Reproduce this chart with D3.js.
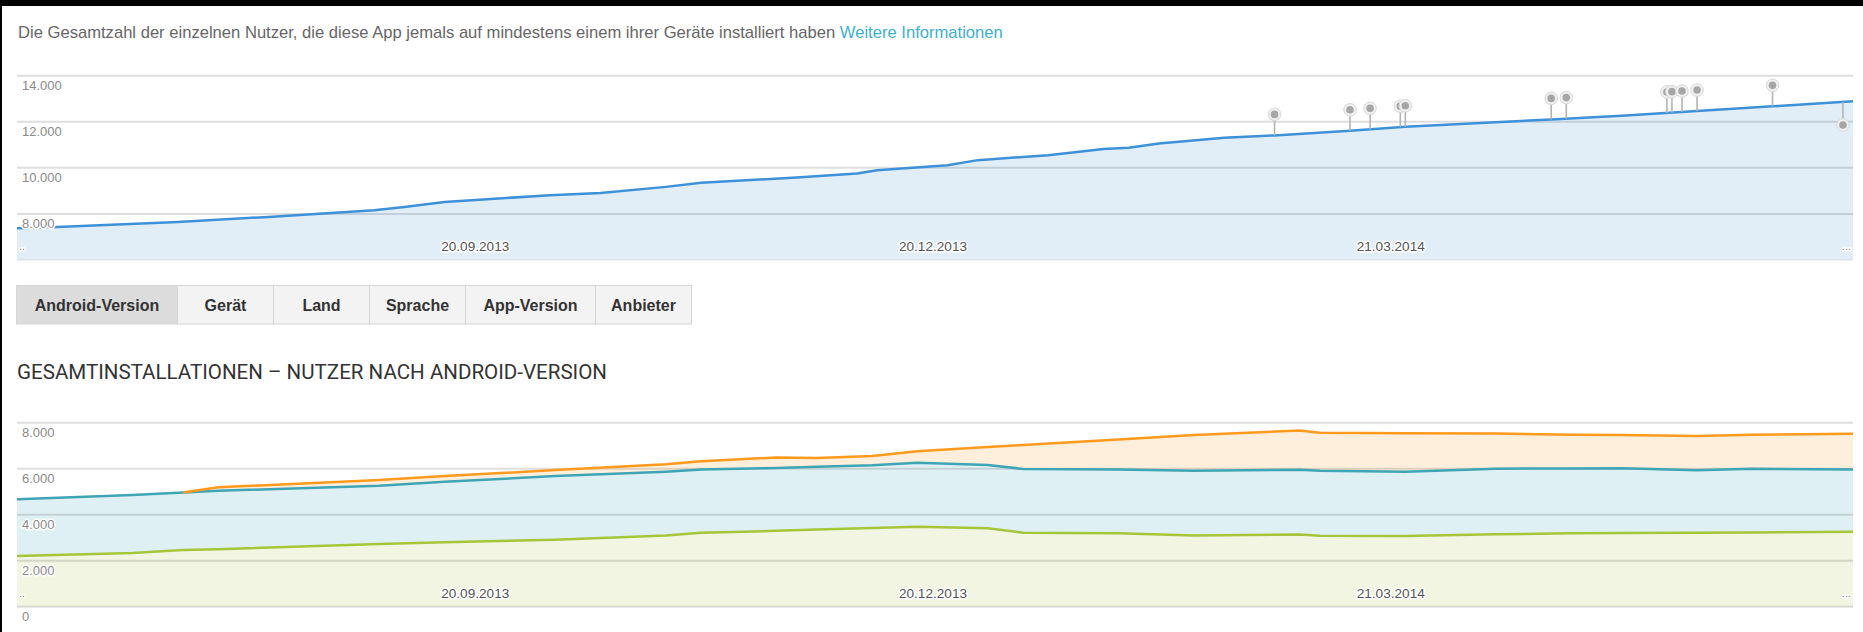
<!DOCTYPE html>
<html>
<head>
<meta charset="utf-8">
<script src="https://cdn.jsdelivr.net/npm/d3@7"></script>
<style>
  body { margin: 0; background: #fff; }
  svg { display: block; font-family: "Liberation Sans", Arial, sans-serif; }
</style>
</head>
<body>
<svg id="page"></svg>
<script>
// total users over time (top chart)
const totalDates = ["2013-06-21","2013-06-29","2013-07-23","2013-08-10","2013-08-31","2013-09-06","2013-09-14",
  "2013-10-05","2013-10-15","2013-10-28","2013-11-04","2013-11-23","2013-12-05","2013-12-09","2013-12-23",
  "2013-12-29","2014-01-12","2014-01-23","2014-01-28","2014-02-03","2014-02-16","2014-02-26","2014-03-13",
  "2014-03-24","2014-04-22","2014-05-06","2014-05-21","2014-06-05","2014-06-21"];
const totalUsers = [7380,7435,7652,7870,8161,8304,8522,8813,8913,9174,9348,9583,9757,9900,10117,
  10335,10552,10813,10870,11061,11304,11409,11609,11783,12104,12261,12465,12670,12887];

// annotation pins on the top chart
const eventDates = ["2014-02-26","2014-03-13","2014-03-17","2014-03-23","2014-03-24","2014-04-22","2014-04-25",
  "2014-05-15","2014-05-16","2014-05-18","2014-05-21","2014-06-05","2014-06-19"];
const eventSide = [1,1,1,1,1,1,1,1,1,1,1,1,-1];

// users by android version (bottom chart, stacked)
const versionDates = ["2013-06-21","2013-07-14","2013-07-24","2013-07-31","2013-09-01","2013-09-14","2013-10-06",
  "2013-10-28","2013-11-04","2013-11-19","2013-11-27","2013-12-08","2013-12-17","2013-12-31","2014-01-07",
  "2014-01-26","2014-02-10","2014-03-03","2014-03-07","2014-03-24","2014-04-11","2014-04-26","2014-05-06",
  "2014-05-21","2014-06-01","2014-06-21"];
const versionLow  = [2200,2330,2460,2500,2730,2800,2910,3100,3210,3300,3360,3420,3480,3410,3220,
  3190,3100,3140,3090,3070,3150,3190,3200,3220,3230,3260];
const versionMid  = [2470,2530,2510,2540,2530,2630,2770,2770,2750,2730,2730,2730,2780,2750,2770,
  2780,2810,2810,2820,2800,2850,2820,2820,2710,2770,2700];
const versionHigh = [null,null,0,150,250,250,260,320,360,460,370,400,500,780,1040,
  1300,1550,1710,1650,1670,1530,1470,1440,1490,1480,1560];

const dateTicks = ["2013-09-20","2013-12-20","2014-03-21"];
const totalTicks = [8000,10000,12000,14000];
const versionTicks = [0,2000,4000,6000,8000];
const tabs = ["Android-Version","Gerät","Land","Sprache","App-Version","Anbieter"];
const tabWidths = [161,96,96,96,130,96];

const W = 1863, H = 632;
const parse = d3.timeParse("%Y-%m-%d");
const de = d3.formatLocale({decimal: ",", thousands: ".", grouping: [3], currency: ["", " €"]});
const fmt = de.format(",");

const svg = d3.select("#page").attr("width", W).attr("height", H);
svg.append("rect").attr("width", W).attr("height", H).attr("fill", "#fff");

// description line
const desc = svg.append("text").attr("x", 18).attr("y", 38).attr("font-size", 16.6).attr("fill", "#666");
desc.append("tspan").text("Die Gesamtzahl der einzelnen Nutzer, die diese App jemals auf mindestens einem ihrer Geräte installiert haben ");
desc.append("tspan").attr("fill", "#3cb0d0").text("Weitere Informationen");

const x = d3.scaleTime()
  .domain([parse("2013-06-21"), parse("2014-06-21")])
  .range([17, 1853]);

function halo(sel) {
  sel.attr("stroke", "#fff").attr("stroke-width", 3).attr("paint-order", "stroke").attr("stroke-linejoin", "round");
}

function grid(g, y, ticks) {
  g.selectAll(".grid")
    .data(ticks)
    .enter()
    .append("line")
    .attr("x1", x.range()[0]).attr("x2", x.range()[1])
    .attr("y1", d => y(d)).attr("y2", d => y(d))
    .attr("stroke", "rgba(0,0,0,0.13)")
    .attr("stroke-width", 2);
}

function labels(g, y, ticks) {
  g.selectAll(".ylab")
    .data(ticks)
    .enter()
    .append("text")
    .attr("x", 22).attr("y", d => y(d) + 14.5)
    .attr("font-size", 13).attr("fill", "#8a8a8a")
    .text(d => fmt(d))
    .call(halo);
}

function dateAxis(g, yPos) {
  const ax = g.append("g")
    .attr("transform", `translate(0,${yPos})`)
    .call(d3.axisBottom(x)
      .tickValues(dateTicks.map(parse))
      .tickSize(0)
      .tickFormat(d3.timeFormat("%d.%m.%Y")));
  ax.select(".domain").remove();
  ax.selectAll("text")
    .attr("font-size", 13.6).attr("fill", "#555").attr("font-family", "Liberation Sans, Arial, sans-serif")
    .attr("dy", 0).attr("y", 0)
    .call(halo);
  g.append("text").attr("x", 19).attr("y", yPos - 1).attr("font-size", 11).attr("fill", "#777").text("..").call(halo);
  g.append("text").attr("x", 1851).attr("y", yPos - 1).attr("font-size", 11).attr("fill", "#777")
    .attr("text-anchor", "end").text("...").call(halo);
}

// ---------- top chart
const yTop = d3.scaleLinear().domain([6000, 14000]).range([260, 75.7]);
const topData = totalDates.map((d, i) => ({date: parse(d), value: totalUsers[i]}));
const gTop = svg.append("g");

gTop.append("path")
  .datum(topData)
  .attr("fill", "#e1eef8")
  .attr("d", d3.area().x(d => x(d.date)).y0(yTop(6000)).y1(d => yTop(d.value)));

grid(gTop, yTop, totalTicks);
gTop.append("line").attr("x1", 17).attr("x2", 1853).attr("y1", yTop(6000)).attr("y2", yTop(6000))
  .attr("stroke", "rgba(0,0,0,0.05)").attr("stroke-width", 2);

gTop.append("path")
  .datum(topData)
  .attr("fill", "none")
  .attr("stroke", "#3d91d9")
  .attr("stroke-width", 2.5)
  .attr("d", d3.line().x(d => x(d.date)).y(d => yTop(d.value)));

labels(gTop, yTop, totalTicks);
dateAxis(gTop, 251);

// pins
const bis = d3.bisector(d => d.date).left;
function valueAt(date) {
  const i = Math.max(1, Math.min(topData.length - 1, bis(topData, date)));
  const a = topData[i - 1], b = topData[i];
  const t = (date - a.date) / (b.date - a.date);
  return a.value + t * (b.value - a.value);
}
const pins = gTop.selectAll(".pin")
  .data(eventDates.map((d, i) => ({date: parse(d), side: eventSide[i]})))
  .enter()
  .append("g")
  .attr("transform", d => `translate(${x(d.date)},${yTop(valueAt(d.date))})`);
pins.append("line")
  .attr("x1", 0).attr("x2", 0).attr("y1", 0).attr("y2", d => -d.side * 16)
  .attr("stroke", "#b4b4b4").attr("stroke-width", 1.6);
pins.append("circle")
  .attr("cy", d => d.side > 0 ? -21 : 23).attr("r", 6.3)
  .attr("fill", "#f0f0f0").attr("stroke", "#d8d8d8").attr("stroke-width", 1);
pins.append("circle")
  .attr("cy", d => d.side > 0 ? -21 : 23).attr("r", 3.8)
  .attr("fill", "#a6a6a6");

// ---------- tabs
const gTabs = svg.append("g");
let tx = 16.5;
tabs.forEach((t, i) => {
  const w = tabWidths[i];
  gTabs.append("rect")
    .attr("x", tx).attr("y", 285.5).attr("width", w).attr("height", 38.5)
    .attr("fill", i === 0 ? "#dcdcdc" : "#f3f3f3")
    .attr("stroke", "#d6d6d6").attr("stroke-width", 1);
  gTabs.append("text")
    .attr("x", tx + w / 2).attr("y", 310.5)
    .attr("text-anchor", "middle")
    .attr("font-size", 16).attr("font-weight", "bold").attr("fill", "#333")
    .text(t);
  tx += w;
});

// ---------- title
svg.append("text")
  .attr("x", 17).attr("y", 379)
  .attr("font-family", "Roboto, sans-serif")
  .attr("font-size", 19.5).attr("fill", "#333")
  .attr("textLength", 590).attr("lengthAdjust", "spacingAndGlyphs")
  .text("GESAMTINSTALLATIONEN – NUTZER NACH ANDROID-VERSION");

// ---------- bottom chart
const yBot = d3.scaleLinear().domain([0, 8000]).range([606.7, 422.7]);
const rows = versionDates.map((d, i) => ({date: parse(d), low: versionLow[i], mid: versionMid[i], high: versionHigh[i]}));
const keys = ["low", "mid", "high"];
const layers = d3.stack().keys(keys).value((d, k) => d[k] == null ? 0 : d[k])(rows);
const fills = {low: "#f2f5e2", mid: "#dff0f4", high: "#fdefdb"};
const strokes = {low: "#a6c639", mid: "#3ea5b6", high: "#ff9a1c"};

const gBot = svg.append("g");
gBot.selectAll(".layer")
  .data(layers)
  .enter()
  .append("path")
  .attr("fill", d => fills[d.key])
  .attr("d", d3.area().x(d => x(d.data.date)).y0(d => yBot(d[0])).y1(d => yBot(d[1])));

grid(gBot, yBot, versionTicks);

gBot.selectAll(".vline")
  .data(layers)
  .enter()
  .append("path")
  .attr("fill", "none")
  .attr("stroke", d => strokes[d.key])
  .attr("stroke-width", 2.5)
  .attr("d", s => d3.line()
    .defined(d => d.data[s.key] != null)
    .x(d => x(d.data.date)).y(d => yBot(d[1]))(s));

labels(gBot, yBot, versionTicks);
dateAxis(gBot, 598);

// screenshot frame
svg.append("rect").attr("x", 0).attr("y", 0).attr("width", W).attr("height", 6).attr("fill", "#000");
svg.append("rect").attr("x", 0).attr("y", 0).attr("width", 2).attr("height", H).attr("fill", "#000");
</script>
</body>
</html>
